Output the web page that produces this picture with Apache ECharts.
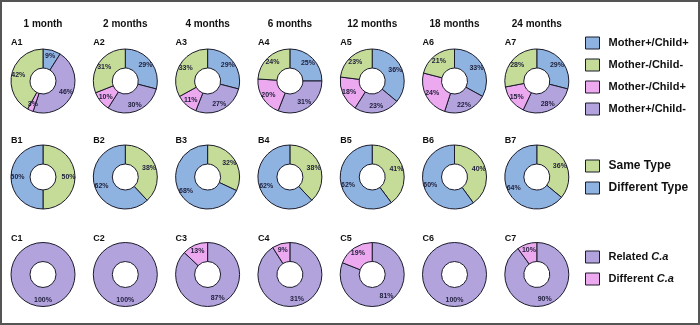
<!DOCTYPE html>
<html>
<head>
<meta charset="utf-8">
<script src="https://cdn.jsdelivr.net/npm/echarts@6/dist/echarts.min.js"></script>
<style>
  html, body { margin: 0; padding: 0; background: #fff; }
  #main { width: 700px; height: 325px; }
</style>
</head>
<body>
<div id="main"></div>
<script>
// column titles
var months = ["1 month", "2 months", "4 months", "6 months", "12 months", "18 months", "24 months"];
// row A: mother/child carriage
var aPosPos = [9, 29, 29, 25, 36, 33, 29];
var aPosNeg = [46, 30, 27, 31, 23, 22, 28];
var aNegPos = [3, 10, 11, 20, 18, 24, 15];
var aNegNeg = [42, 31, 33, 24, 23, 21, 28];
// row B: strain type
var bSame = [50, 38, 32, 38, 41, 40, 36];
var bDiff = [50, 62, 68, 62, 62, 60, 64];
// row C: relatedness
var cRelated = [100, 100, 87, 91, 81, 100, 90];
var cRelatedText = ["100%", "100%", "87%", "31%", "81%", "100%", "90%"];
var cDifferent = [0, 0, 13, 9, 19, 0, 10];

var BLUE = "#8FB3E0", GREEN = "#C5DC98", PINK = "#EDA9EF", PURPLE = "#B3A3DD";
var FONT = "Liberation Sans";

var myChart = echarts.init(document.getElementById("main"));

var cx = [];
for (var i = 0; i < 7; i++) cx.push(43 + i * 82.3);
var rowY = [81, 177, 274.5];
var rowTag = ["A", "B", "C"];
var labelY = [43, 141, 239];

function pie(x, y, items) {
  return {
    type: "pie",
    center: [x, y],
    radius: [13, 32],
    startAngle: 90,
    clockwise: true,
    animation: false,
    silent: true,
    itemStyle: { borderColor: "#1b1b2b", borderWidth: 1 },
    label: {
      show: true,
      position: "inside",
      fontFamily: FONT,
      fontSize: 7,
      fontWeight: "bold",
      color: "#1e1e3a",
      formatter: function (p) { return p.data.text; }
    },
    labelLine: { show: false },
    emphasis: { disabled: true },
    data: items.filter(function (d) { return d.value > 0; })
  };
}

var series = [];
for (var i = 0; i < 7; i++) {
  series.push(pie(cx[i], rowY[0], [
    { name: "Mother+/Child+", value: aPosPos[i], text: aPosPos[i] + "%", itemStyle: { color: BLUE } },
    { name: "Mother+/Child-", value: aPosNeg[i], text: aPosNeg[i] + "%", itemStyle: { color: PURPLE } },
    { name: "Mother-/Child+", value: aNegPos[i], text: aNegPos[i] + "%", itemStyle: { color: PINK } },
    { name: "Mother-/Child-", value: aNegNeg[i], text: aNegNeg[i] + "%", itemStyle: { color: GREEN } }
  ]));
  series.push(pie(cx[i], rowY[1], [
    { name: "Same Type", value: bSame[i], text: bSame[i] + "%", itemStyle: { color: GREEN } },
    { name: "Different Type", value: bDiff[i], text: bDiff[i] + "%", itemStyle: { color: BLUE } }
  ]));
  series.push(pie(cx[i], rowY[2], [
    { name: "Related C.a", value: cRelated[i], text: cRelatedText[i], itemStyle: { color: PURPLE } },
    { name: "Different C.a", value: cDifferent[i], text: cDifferent[i] + "%", itemStyle: { color: PINK } }
  ]));
}

// titles and panel tags
var graphic = [{
  type: "rect",
  shape: { x: 1, y: 1, width: 698, height: 323 },
  style: { fill: null, stroke: "#555", lineWidth: 2 },
  silent: true
}];
for (var i = 0; i < 7; i++) {
  graphic.push({
    type: "text", x: cx[i], y: 24,
    style: { text: months[i], fill: "#111", font: "bold 10px " + FONT, align: "center", verticalAlign: "middle" }
  });
  for (var r = 0; r < 3; r++) {
    graphic.push({
      type: "text", x: cx[i] - 32, y: labelY[r],
      style: { text: rowTag[r] + (i + 1), fill: "#111", font: "bold 9px " + FONT, align: "left", verticalAlign: "middle" }
    });
  }
}

function legend(top, names, size) {
  return {
    orient: "vertical",
    left: 585,
    top: top,
    padding: 0,
    icon: "rect",
    itemWidth: 14,
    itemHeight: 12,
    itemGap: 8,
    selectedMode: false,
    data: names,
    itemStyle: { borderColor: "#1b1b2b", borderWidth: 1 },
    formatter: function (name) {
      return name.replace("C.a", "{i|C.a}");
    },
    textStyle: {
      fontFamily: FONT,
      fontSize: size,
      fontWeight: "bold",
      color: "#111",
      lineHeight: 14,
      padding: [0, 0, 0, 4],
      rich: { i: { fontFamily: FONT, fontSize: size, fontWeight: "bold", fontStyle: "italic", color: "#111" } }
    }
  };
}

var option = {
  backgroundColor: "#fff",
  legend: [
    legend(36, ["Mother+/Child+", "Mother-/Child-", "Mother-/Child+", "Mother+/Child-"], 11),
    legend(159, ["Same Type", "Different Type"], 12),
    legend(250, ["Related C.a", "Different C.a"], 11)
  ],
  graphic: graphic,
  series: series
};

myChart.setOption(option);
</script>
</body>
</html>
